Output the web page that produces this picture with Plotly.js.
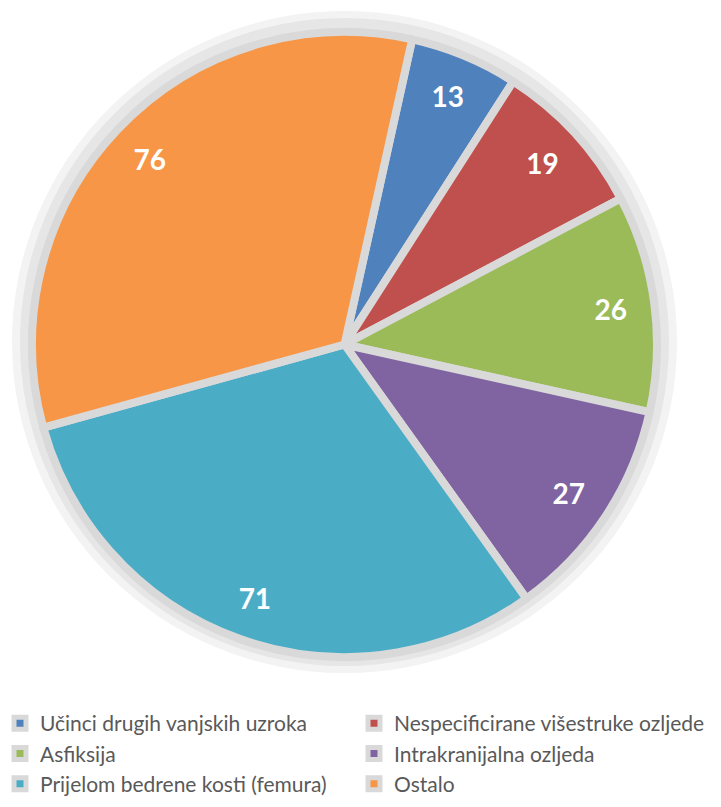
<!DOCTYPE html>
<html>
<head>
<meta charset="utf-8">
<script src="https://cdn.plot.ly/plotly-3.0.1.min.js"></script>
<style>html,body{margin:0;padding:0;background:#fff;}#chart{width:721px;height:807px;}</style>
</head>
<body>
<div id="chart"></div>
<script>
const labels = [
  "Učinci drugih vanjskih uzroka",
  "Nespecificirane višestruke ozljede",
  "Asfiksija",
  "Intrakranijalna ozljeda",
  "Prijelom bedrene kosti (femura)",
  "Ostalo"
];
const values = [13, 19, 26, 27, 71, 76];
const colors = ["#4F81BD", "#C0504D", "#9BBB59", "#8064A2", "#4BACC6", "#F79646"];

const W = 721, H = 807;
const px = v => v / W;
const py = v => 1 - v / H;

const pieDomain = {x: [px(32), px(657)], y: [py(657), py(32)]};

const mainPie = {
  type: "pie",
  labels: labels,
  values: values,
  sort: false,
  direction: "clockwise",
  rotation: 12.5,
  domain: pieDomain,
  marker: {colors: colors, line: {color: "#d9d9d9", width: 8}},
  textinfo: "none",
  hoverinfo: "label+value",
  showlegend: true
};

const labelPie = {
  type: "pie",
  labels: labels,
  values: values,
  sort: false,
  direction: "clockwise",
  rotation: 12.5,
  domain: pieDomain,
  hole: 0.72,
  marker: {colors: labels.map(() => "rgba(0,0,0,0)"), line: {width: 0}},
  textinfo: "value",
  textposition: "inside",
  insidetextorientation: "horizontal",
  textfont: {family: "Lato, 'Open Sans', sans-serif", size: 28, color: "#ffffff", weight: "bold"},
  hoverinfo: "skip",
  showlegend: false
};

const layout = {
  width: W,
  height: H,
  margin: {l: 0, r: 0, t: 0, b: 0},
  paper_bgcolor: "#ffffff",
  showlegend: true,
  legend: {
    orientation: "h",
    x: 0,
    xanchor: "left",
    y: py(703),
    yanchor: "top",
    entrywidth: 309,
    entrywidthmode: "pixels",
    traceorder: "normal",
    font: {family: "Lato, 'Open Sans', sans-serif", size: 21, color: "#595959"},
    bgcolor: "rgba(0,0,0,0)"
  },
  shapes: [
    {type: "circle", xref: "paper", yref: "paper", layer: "below",
     x0: px(12), x1: px(677), y0: py(673), y1: py(11),
     fillcolor: "#f3f3f3", line: {width: 0}},
    {type: "circle", xref: "paper", yref: "paper", layer: "below",
     x0: px(20), x1: px(669), y0: py(666), y1: py(18),
     fillcolor: "#e6e6e6", line: {width: 0}}
  ]
};

Plotly.newPlot("chart", [mainPie, labelPie], layout, {displayModeBar: false, responsive: false});
</script>
</body>
</html>
